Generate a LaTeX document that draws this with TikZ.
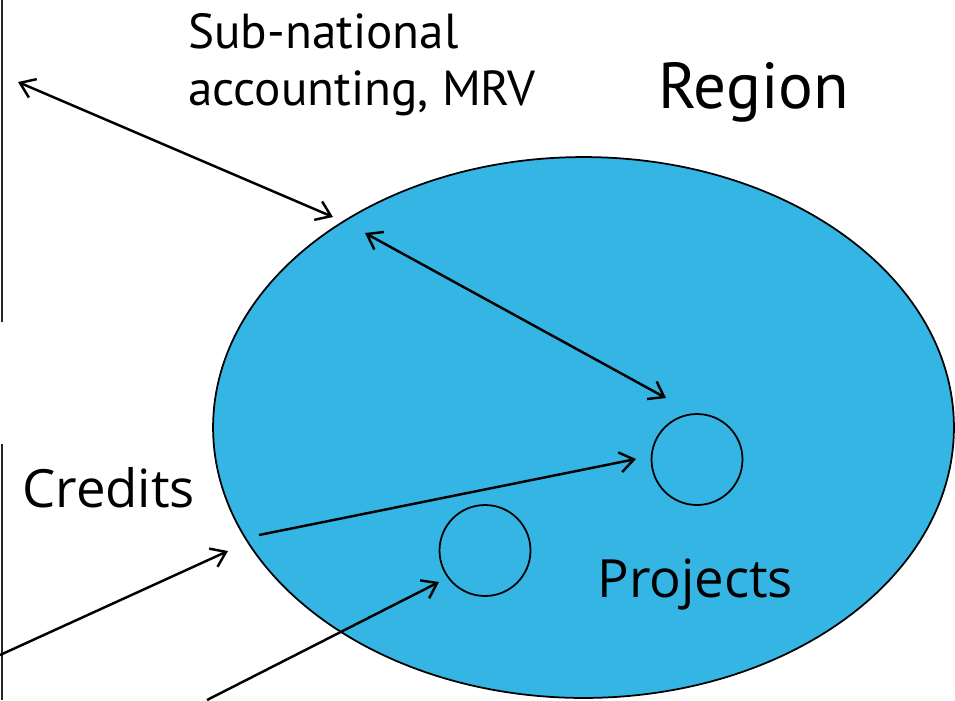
\documentclass[tikz,border=0pt]{standalone}
\usepackage{fontspec}
\newfontfamily\ptsans{PT Sans}
\newfontfamily\opensans{Open Sans}
\usepackage{tikz}
\usetikzlibrary{shapes, arrows.meta, positioning}

\definecolor{regionblue}{RGB}{52,181,228}

\begin{document}
\begin{tikzpicture}
  [
    x=0.02cm, y=-0.02cm,
    >={Straight Barb[length=2.8mm, width=4mm]},
    Region/.style={ellipse, draw=black, fill=regionblue, line width=1pt, minimum width=14.82cm, minimum height=10.82cm, inner sep=0pt},
    Ring/.style={circle, draw=black, line width=1pt, minimum size=1.82cm, inner sep=0pt},
    Narrow/.style={font=\ptsans\fontsize{28}{32.3}\selectfont, inner sep=0pt, align=left},
    Wide/.style={font=\opensans\fontsize{30}{34}\selectfont, inner sep=0pt},
    Link/.style={line width=1.4pt}
  ]
  \useasboundingbox (0,0) rectangle (955,700);

  % Nodes
  \node[Region] (region) at (583.5,427.5) {};
  \node[Ring] (proj1) at (697,459.5) {};
  \node[Ring] (proj2) at (485,550.5) {};
  \node[Narrow, anchor=base west] (subnat) at (188,105) {Sub-national\\accounting, MRV};
  \node[Narrow, font=\ptsans\fontsize{37}{40}\selectfont, anchor=base west] (regname) at (658,108) {Region};
  \node[Wide, anchor=base west] (credits) at (22,507) {Credits};
  \node[Wide, anchor=base west] (projects) at (597,597) {Projects};

  % Free ends
  \coordinate (natl) at (18,82);
  \coordinate (edge) at (333,217);
  \coordinate (inner) at (365,233);
  \coordinate (near1) at (666,398);
  \coordinate (start1) at (259,535);
  \coordinate (tip1) at (636,459);
  \coordinate (left1) at (0,655);
  \coordinate (rim) at (228,551);
  \coordinate (left2) at (207,700);
  \coordinate (tip2) at (439,582);

  % Lines
  \draw [line width=1.4pt, black!85] (2,0) -- (2,322);
  \draw [line width=1.4pt, black!85] (2,444) -- (2,700);
  \draw [Link, <->] (natl) -- (edge);
  \draw [Link, <->] (inner) -- (near1);
  \draw [Link, ->] (start1) -- (tip1);
  \draw [Link, ->] (left1) -- (rim);
  \draw [Link, ->] (left2) -- (tip2);

\end{tikzpicture}
\end{document}
